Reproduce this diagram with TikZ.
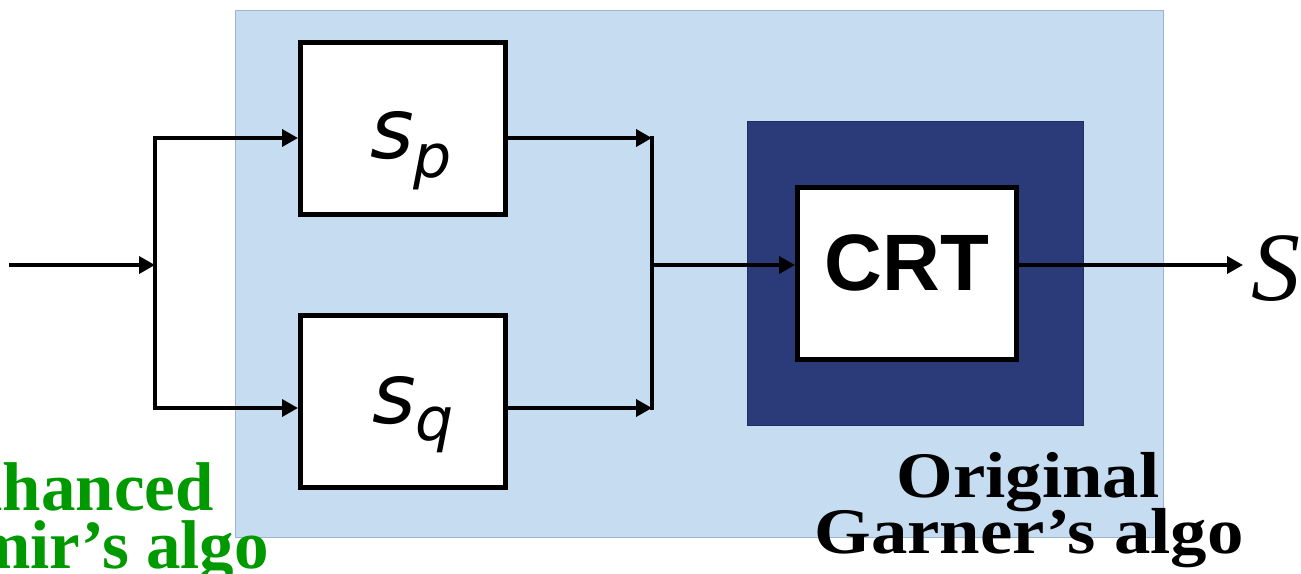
\documentclass[tikz,border=0pt]{standalone}
\usepackage{fontspec}
\usetikzlibrary{arrows.meta,calc}
\newfontfamily\labelserif{Liberation Serif}
\newfontfamily\blocksans{DejaVu Sans}
\newfontfamily\crtsans{Liberation Sans}
\definecolor{panelblue}{HTML}{C6DCF0}
\definecolor{panelrim}{HTML}{9DB3CF}
\definecolor{navyblock}{HTML}{2B3A78}
\definecolor{algogreen}{HTML}{009A00}
\tikzset{
  wire/.style={line width=3.6pt, line cap=rect},
  feed/.style={wire, -{Triangle[length=16pt,width=17pt]}},
  blockbox/.style={draw=black, line width=5pt, fill=white, inner sep=0pt},
  caption/.style={inner sep=0pt, font=\labelserif\bfseries\fontsize{65}{65}\selectfont, xscale=1.12},
  greencaption/.style={inner sep=0pt, text=algogreen, font=\labelserif\bfseries\fontsize{69}{69}\selectfont}
}
\begin{document}
\begin{tikzpicture}[x=1pt,y=-1pt]
\useasboundingbox (0,0) rectangle (1301,573);
\clip (0,0) rectangle (1301,573);

% panel behind the two exponentiations
\node[fill=panelblue, draw=panelrim, line width=1pt, minimum width=928pt, minimum height=527pt, inner sep=0pt] (panel) at (699,273.5) {};
% dark frame around the recombination step
\node[fill=navyblock, draw=navyblock!80!black, line width=0.6pt, minimum width=336pt, minimum height=304pt, inner sep=0pt] (frame) at (915,273) {};

% processing blocks
\node[blockbox, minimum width=205pt, minimum height=172pt] (sp) at (403,128.5) {};
\node[blockbox, minimum width=205pt, minimum height=172pt] (sq) at (403,401.5) {};
\node[blockbox, minimum width=219pt, minimum height=172pt] (crt) at (907,273.5) {};

% block labels
\node[anchor=base west, inner sep=0pt] (splabel) at (370,158)
  {\blocksans\itshape\fontsize{84}{84}\selectfont s\raisebox{-19pt}{\fontsize{60}{60}\selectfont p}};
\node[anchor=base west, inner sep=0pt] (sqlabel) at (372,423)
  {\blocksans\itshape\fontsize{84}{84}\selectfont s\raisebox{-17pt}{\fontsize{60}{60}\selectfont q}};
\node[anchor=base, inner sep=0pt] (crtlabel) at (907,290)
  {\crtsans\bfseries\fontsize{80}{80}\selectfont CRT};

% branching points
\coordinate (in)  at (11,265);
\coordinate (jl)  at (155,265);
\coordinate (jlt) at (155,138);
\coordinate (jlb) at (155,408);
\coordinate (jr)  at (652,265);
\coordinate (jrt) at (652,138);
\coordinate (jrb) at (652,408);
\coordinate (out) at (1243,265);

% connectors
\draw[feed] (in) -- (jl);
\draw[wire] (jlt) -- (jlb);
\draw[feed] (jlt) -- (jlt -| sp.west);
\draw[feed] (jlb) -- (jlb -| sq.west);
\draw[feed] (jrt -| sp.east) -- (jrt);
\draw[feed] (jrb -| sq.east) -- (jrb);
\draw[wire] (jrt) -- (jrb);
\draw[feed] (jr) -- (jr -| crt.west);
\draw[feed] (jr -| crt.east) -- (out);

% result
\node[anchor=base west, inner sep=0pt] (result) at (1251,300)
  {\labelserif\itshape\fontsize{98}{98}\selectfont S};

% captions
\node[greencaption, anchor=base east] (enh1) at (214,510) {Enhanced};
\node[greencaption, anchor=base east] (enh2) at (269,568) {Shamir’s algo};
\node[caption, anchor=base] (orig1) at (1028,497) {Original};
\node[caption, anchor=base] (orig2) at (1029,553) {Garner’s algo};
\end{tikzpicture}
\end{document}
